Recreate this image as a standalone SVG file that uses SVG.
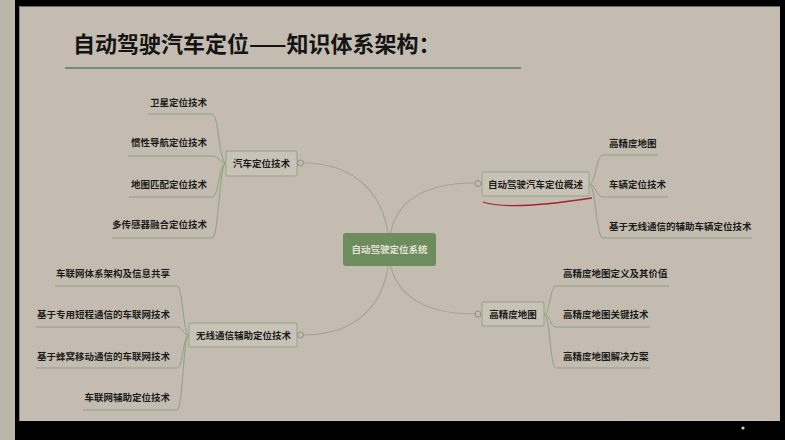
<svg xmlns="http://www.w3.org/2000/svg" width="785" height="440" viewBox="0 0 785 440">
<style>
.t{font-family:"Noto Sans CJK SC","Noto Sans",sans-serif;font-size:9.5px;font-weight:700;fill:#1c1c1a}
.ct{font-family:"Noto Sans CJK SC","Noto Sans",sans-serif;font-size:9.5px;font-weight:700;fill:#e6e2d6}
.box{fill:#c9c2b6;stroke:#a3ad96;stroke-width:1.4}
.main{fill:none;stroke:#9fa892;stroke-width:1.2}
.sub{fill:none;stroke:#8fa184;stroke-width:1}
.ring{fill:#c4bcb0;stroke:#8d8f85;stroke-width:1}
</style>
<rect x="0" y="0" width="785" height="440" fill="#000"/>
<rect x="0" y="0" width="15" height="440" fill="#bcb5a9"/>
<rect x="19" y="6" width="761" height="415" fill="#c4bcb0"/>
<line x1="19" y1="6.5" x2="780" y2="6.5" stroke="#6e6a64" stroke-width="1"/>
<line x1="19.5" y1="6" x2="19.5" y2="421" stroke="#8a857d" stroke-width="1"/>
<line x1="625" y1="420.5" x2="767" y2="420.5" stroke="#d8d2c8" stroke-width="0.8" opacity="0.6"/>
<circle cx="743" cy="428" r="1.6" fill="#cfcfcf"/>

<g id="title">
<text x="73" y="52" font-family="'Noto Sans CJK SC','Noto Sans',sans-serif" font-size="22" font-weight="700" fill="#141414">自动驾驶汽车定位——知识体系架构：</text>
<line x1="65" y1="68" x2="521" y2="68" stroke="#6f8f78" stroke-width="2"/>
</g>

<g id="connectors">
<path class="main" d="M389,250 C389,195 355,163 303.5,163"/>
<path class="main" d="M389,250 C389,305 355,335 303.5,335"/>
<path class="main" d="M389,250 C389,200 425,183 475,183"/>
<path class="main" d="M389,250 C389,295 425,314 475,314"/>

<path class="sub" d="M226,163 C219,163 219,114 212,114 H148"/>
<path class="sub" d="M226,163 C219,163 219,156 212,156 H128"/>
<path class="sub" d="M226,163 C219,163 219,197 212,197 H129"/>
<path class="sub" d="M226,163 C219,163 219,238 212,238 H112"/>

<path class="sub" d="M189,335 C183,335 183,286 177,286 H55"/>
<path class="sub" d="M189,335 C183,335 183,327 177,327 H36"/>
<path class="sub" d="M189,335 C183,335 183,368 177,368 H36"/>
<path class="sub" d="M189,335 C183,335 183,410 177,410 H83"/>

<path class="sub" d="M589,184 C596,184 596,155 603,155 H658"/>
<path class="sub" d="M589,184 C596,184 596,197 603,197 H668"/>
<path class="sub" d="M589,184 C596,184 596,238 603,238 H752"/>

<path class="sub" d="M544,314 C550,314 550,286 556,286 H669"/>
<path class="sub" d="M544,314 C550,314 550,327 556,327 H650"/>
<path class="sub" d="M544,314 C550,314 550,368 556,368 H650"/>
</g>

<g id="center">
<rect x="343" y="233" width="93" height="33" rx="3" fill="#6d8d5e"/>
<text class="ct" x="389.5" y="253" text-anchor="middle">自动驾驶定位系统</text>
</g>

<g id="n-car">
<rect class="box" x="226" y="151" width="71" height="25" rx="2"/>
<circle class="ring" cx="300.5" cy="163" r="3"/>
<text class="t" x="261.5" y="167" text-anchor="middle">汽车定位技术</text>
</g>
<g id="n-car-1"><text class="t" x="207" y="105.5" text-anchor="end">卫星定位技术</text></g>
<g id="n-car-2"><text class="t" x="207" y="145.5" text-anchor="end">惯性导航定位技术</text></g>
<g id="n-car-3"><text class="t" x="207" y="187.5" text-anchor="end">地图匹配定位技术</text></g>
<g id="n-car-4"><text class="t" x="207" y="227.5" text-anchor="end">多传感器融合定位技术</text></g>

<g id="n-wireless">
<rect class="box" x="189" y="323" width="108" height="24" rx="2"/>
<circle class="ring" cx="300.5" cy="335" r="3"/>
<text class="t" x="243.5" y="338.5" text-anchor="middle">无线通信辅助定位技术</text>
</g>
<g id="n-wireless-1"><text class="t" x="170" y="276.5" text-anchor="end">车联网体系架构及信息共享</text></g>
<g id="n-wireless-2"><text class="t" x="170" y="317.5" text-anchor="end">基于专用短程通信的车联网技术</text></g>
<g id="n-wireless-3"><text class="t" x="170" y="359.5" text-anchor="end">基于蜂窝移动通信的车联网技术</text></g>
<g id="n-wireless-4"><text class="t" x="170" y="400.5" text-anchor="end">车联网辅助定位技术</text></g>

<g id="n-overview">
<rect class="box" x="482" y="172" width="107" height="24" rx="2"/>
<circle class="ring" cx="478" cy="183.5" r="3"/>
<text class="t" x="535.5" y="187.5" text-anchor="middle">自动驾驶汽车定位概述</text>
<path d="M483,202 C500,208 540,206 592,198" fill="none" stroke="#a8232a" stroke-width="1.3"/>
</g>
<g id="n-overview-1"><text class="t" x="609" y="146.5">高精度地图</text></g>
<g id="n-overview-2"><text class="t" x="609" y="187.5">车辆定位技术</text></g>
<g id="n-overview-3"><text class="t" x="609" y="229.5">基于无线通信的辅助车辆定位技术</text></g>

<g id="n-hdmap">
<rect class="box" x="482" y="302" width="62" height="24" rx="2"/>
<circle class="ring" cx="478" cy="314" r="3"/>
<text class="t" x="513" y="317.5" text-anchor="middle">高精度地图</text>
</g>
<g id="n-hdmap-1"><text class="t" x="563" y="276.5">高精度地图定义及其价值</text></g>
<g id="n-hdmap-2"><text class="t" x="563" y="317.5">高精度地图关键技术</text></g>
<g id="n-hdmap-3"><text class="t" x="563" y="359.5">高精度地图解决方案</text></g>
</svg>
